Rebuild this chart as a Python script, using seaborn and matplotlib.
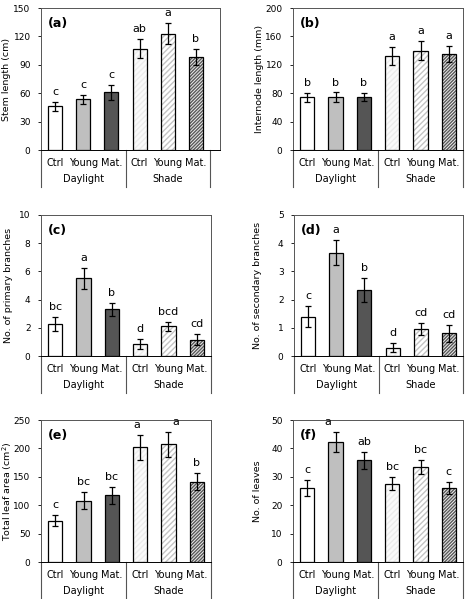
import pandas as pd
import seaborn as sns
import matplotlib.pyplot as plt
import numpy as np
from matplotlib.patches import Rectangle

# treatments (light x scion type)
conds = ['Ctrl', 'Young', 'Mat.', 'Ctrl', 'Young', 'Mat.']
groups = ['Daylight', 'Shade']

stem_mean = [46, 53.5, 61, 107, 123, 98.5]
stem_se = [5, 5, 8, 10, 11, 8.5]
stem_let = ['c', 'c', 'c', 'ab', 'a', 'b']

intern_mean = [74, 74.5, 74.5, 132.5, 140, 135]
intern_se = [6.5, 6.5, 6, 13, 13, 11]
intern_let = ['b', 'b', 'b', 'a', 'a', 'a']

prim_mean = [2.3, 5.5, 3.3, 0.85, 2.1, 1.15]
prim_se = [0.5, 0.72, 0.45, 0.33, 0.33, 0.4]
prim_let = ['bc', 'a', 'b', 'd', 'bcd', 'cd']

sec_mean = [1.4, 3.66, 2.35, 0.3, 0.95, 0.8]
sec_se = [0.38, 0.44, 0.42, 0.17, 0.21, 0.3]
sec_let = ['c', 'a', 'b', 'd', 'cd', 'cd']

area_mean = [73, 108, 117.5, 202, 207.5, 141.5]
area_se = [10, 15.5, 15, 22, 22, 15.5]
area_let = ['c', 'bc', 'bc', 'a', 'a', 'b']

leaf_mean = [26.1, 42.4, 35.8, 27.5, 33.4, 26.1]
leaf_se = [2.8, 3.5, 3.1, 2.3, 2.5, 2.2]
leaf_let = ['c', 'a', 'ab', 'bc', 'bc', 'c']

face = ['white', '#bfbfbf', '#555555', '#fafafa', 'white', '#ececec']
hatch = [None, None, None, '//////', '//////', '//////////']
hatch_col = [None, None, None, '#ececec', '#c4c4c4', '#5a5a5a']

panels = [
    ('(a)', 'Stem length (cm)', stem_mean, stem_se, stem_let, 150, 30, [0, 0, 0, 0, 0, 0]),
    ('(b)', 'Internode length (mm)', intern_mean, intern_se, intern_let, 200, 40, [0, 0, 0, 0, 0, 0]),
    ('(c)', 'No. of primary branches', prim_mean, prim_se, prim_let, 10, 2, [0, 0, 0, 0, 0, 0]),
    ('(d)', 'No. of secondary branches', sec_mean, sec_se, sec_let, 5, 1, [0, 0, 0, 0, 0, 0]),
    ('(e)', 'Total leaf area (cm$^2$)', area_mean, area_se, area_let, 250, 50, [0, 0, 0, -0.12, 0.25, 0]),
    ('(f)', 'No. of leaves', leaf_mean, leaf_se, leaf_let, 50, 10, [0, -0.28, 0, 0, 0, 0]),
]

# axes boxes in pixels: left, right, top, bottom, ylabel centre x
boxes = [(41, 220, 8, 150, 7), (293, 463, 8, 150, 259),
         (41, 211, 215, 356, 8), (294, 463, 215, 356, 258),
         (41, 211, 420, 562, 7.5), (293, 463, 420, 562, 257)]

W, H = 468, 599
plt.rcParams['font.family'] = 'DejaVu Sans'
fig = plt.figure(figsize=(W / 100, H / 100), dpi=100)

for (tag, ylab, mean, se, lets, ymax, step, dx), (l, r, t, b, yl) in zip(panels, boxes):
    ax = fig.add_axes([l / W, 1 - b / H, (r - l) / W, (b - t) / H])
    df = pd.DataFrame({'x': np.arange(6), 'y': mean})
    sns.barplot(data=df, x='x', y='y', ax=ax, width=0.5, errorbar=None,
                color='white', edgecolor='black', linewidth=0.9, zorder=2)
    for i, p in enumerate(ax.patches):
        p.set_facecolor(face[i])
        if hatch[i]:
            p.set_hatch(hatch[i])
            p.set_edgecolor(hatch_col[i])
            p.set_linewidth(0)
            ax.add_patch(Rectangle((p.get_x(), p.get_y()), p.get_width(), p.get_height(),
                                   fill=False, edgecolor='black', linewidth=0.9, zorder=3))
    ax.errorbar(np.arange(6), mean, yerr=se, fmt='none', ecolor='black',
                elinewidth=0.9, capsize=2.5, capthick=0.9, zorder=4)
    for i in range(6):
        ax.text(i + dx[i], mean[i] + se[i] + ymax * 0.035, lets[i],
                ha='center', va='bottom', fontsize=8)
    ax.set_ylim(0, ymax)
    ax.set_yticks(np.arange(0, ymax + step / 2, step))
    ax.tick_params(axis='y', labelsize=6.5, length=2.5, width=0.6, pad=5)
    xr = 5.5 + (r - 210) / 28.2 if tag == '(a)' else 5.5
    ax.set_xlim(-0.5, xr)
    ax.set_xticks(np.arange(6))
    ax.set_xticklabels(conds, fontsize=7)
    ax.tick_params(axis='x', length=0, pad=6)
    ax.set_xlabel('')
    ax.set_ylabel(ylab, fontsize=6.8, va='center')
    ax.yaxis.set_label_coords((yl - l) / (r - l), 0.5)
    for s in ax.spines.values():
        s.set_linewidth(0.7)
        s.set_color('#555555')
    ax.spines['bottom'].set_color('black')
    ax.text(0.04, 0.89, tag, transform=ax.transAxes, fontsize=9,
            fontweight='bold', va='center')
    trans = ax.get_xaxis_transform()
    for xv in [-0.5, 2.5, 5.5]:
        ax.plot([xv, xv], [0, -37 / (b - t)], transform=trans, color='#555555',
                lw=0.8, clip_on=False)
    for k, g in enumerate(groups):
        ax.text(1 + 3 * k, -29 / (b - t), g, transform=trans, ha='center',
                va='center', fontsize=7)

fig.savefig('out.png', dpi=100)
